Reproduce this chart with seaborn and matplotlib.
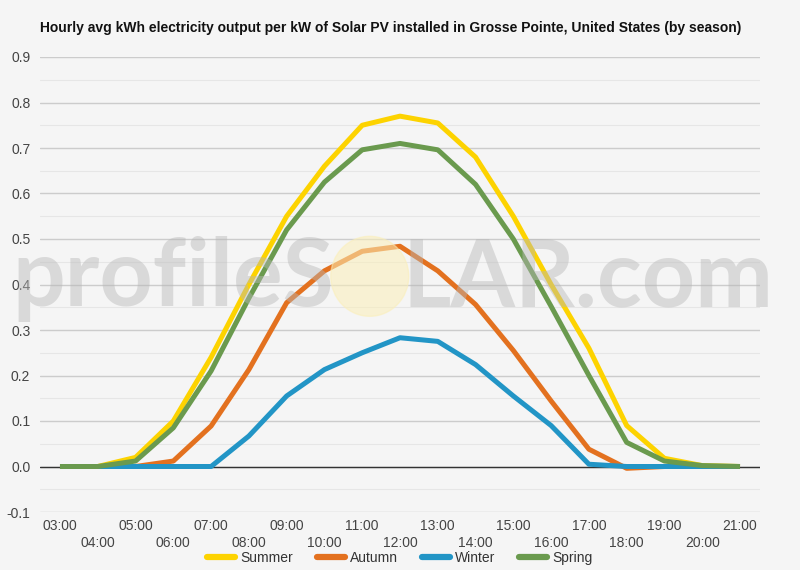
import numpy as np
import pandas as pd
import seaborn as sns
import matplotlib.pyplot as plt
from matplotlib.patches import Ellipse
from matplotlib.lines import Line2D

hours = list(range(3, 22))
hour_labels = [f"{h:02d}:00" for h in hours]
seasons = ["Summer", "Autumn", "Winter", "Spring"]
colors = ["#fdd300", "#e3711f", "#2295c6", "#6a9a4e"]

summer = [0, 0, 0.02, 0.10, 0.24, 0.40, 0.55, 0.66, 0.75, 0.77, 0.755, 0.68, 0.55, 0.40, 0.26, 0.09, 0.018, 0.002, 0]
autumn = [0, 0, 0, 0.012, 0.089, 0.213, 0.36, 0.43, 0.473, 0.484, 0.43, 0.356, 0.255, 0.144, 0.038, -0.004, 0, 0, 0]
winter = [0, 0, 0, 0, 0, 0.067, 0.155, 0.213, 0.25, 0.283, 0.275, 0.224, 0.155, 0.09, 0.005, 0, 0, 0, 0]
spring = [0, 0, 0.012, 0.085, 0.21, 0.37, 0.52, 0.625, 0.696, 0.71, 0.696, 0.62, 0.50, 0.352, 0.20, 0.053, 0.012, 0.002, 0]

df = pd.DataFrame({
    "hour": hours * 4,
    "kwh": summer + autumn + winter + spring,
    "season": [s for s in seasons for _ in hours],
})

bg = "#f5f5f5"
sns.set_style("white", {"axes.facecolor": bg, "figure.facecolor": bg})
plt.rcParams["font.family"] = ["Liberation Sans", "DejaVu Sans"]

fig = plt.figure(figsize=(8, 5.7), dpi=100)
ax = fig.add_axes([40 / 800, 1 - 512 / 570, 720 / 800, 455 / 570])

# minor and major grid
for v in np.arange(-0.05, 0.9, 0.1):
    ax.axhline(v, color="#e6e6e6", lw=0.8, zorder=0)
for v in np.arange(-0.1, 0.95, 0.1):
    ax.axhline(v, color="#cccccc", lw=1.0, zorder=0)
ax.axhline(0, color="#333333", lw=1.0, zorder=1)

sns.lineplot(data=df, x="hour", y="kwh", hue="season", hue_order=seasons,
             palette=colors, linewidth=3.6, ax=ax, legend=False, zorder=3,
             solid_capstyle="butt", solid_joinstyle="round")

# watermark, semi-transparent over the lines
ax.add_patch(Ellipse((0.458, 0.518), 78 / 720, 80 / 455, transform=ax.transAxes,
                     color="#fbefb8", alpha=0.55, zorder=4))
wm = dict(transform=ax.transAxes, va="baseline", fontsize=67, fontweight="bold",
          family="Lato", color="#b8b8b8", alpha=0.45, zorder=4, clip_on=False)
ax.text(0.408, 0.452, "profileS", ha="right", **wm)
ax.text(0.503, 0.452, "LAR.com", ha="left", **wm)

ax.set_xlim(3 - 20 / 37.8, 21 + 20 / 37.8)
ax.set_ylim(-0.1, 0.9)
ax.set_yticks(np.round(np.arange(-0.1, 0.95, 0.1), 1))
ax.set_yticklabels([f"{v:.1f}" for v in np.arange(-0.1, 0.95, 0.1)])
ax.set_xticks(hours)
ax.set_xticklabels([lab if i % 2 == 0 else "\n" + lab for i, lab in enumerate(hour_labels)],
                   linespacing=1.25)
ax.tick_params(axis="both", length=0, labelsize=10, labelcolor="#444444")
ax.tick_params(axis="x", pad=5)
ax.tick_params(axis="y", pad=7)
ax.set_xlabel("")
ax.set_ylabel("")
for s in ax.spines.values():
    s.set_visible(False)

fig.text(40 / 800, 1 - 28 / 570, "Hourly avg kWh electricity output per kW of Solar PV installed in Grosse Pointe, United States (by season)",
         fontsize=10, fontweight="bold", color="#111111", va="center", ha="left")

handles = [Line2D([0], [0], color=c, lw=4.5) for c in colors]
fig.legend(handles, seasons, loc="center", bbox_to_anchor=(0.5, 1 - 558 / 570), ncol=4,
           frameon=False, fontsize=10, handlelength=2.0, columnspacing=1.7,
           handletextpad=0.4, labelcolor="#333333")

fig.savefig("out.png", dpi=100, facecolor=bg)
